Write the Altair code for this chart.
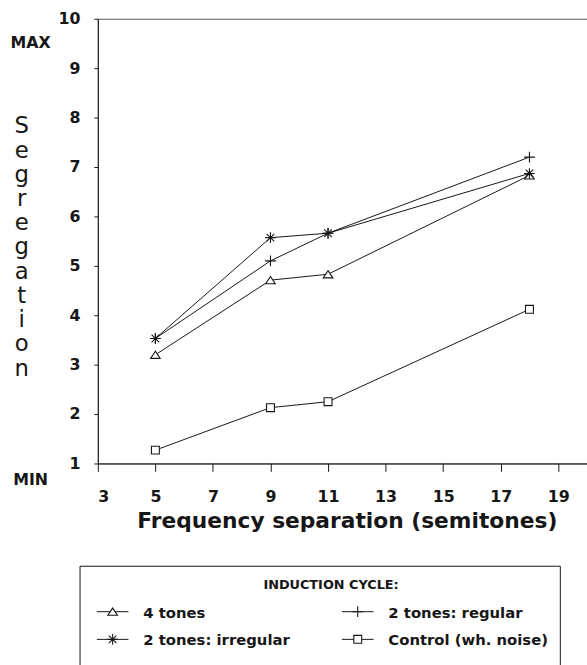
import altair as alt
import pandas as pd

# ---- data ----
freq = [5, 9, 11, 18]
four_tones = [3.20, 4.71, 4.83, 6.83]
two_regular = [3.53, 5.10, 5.66, 7.20]
two_irregular = [3.53, 5.57, 5.66, 6.87]
control = [1.27, 2.13, 2.25, 4.12]

series_names = ["4 tones", "2 tones: regular", "2 tones: irregular", "Control (wh. noise)"]
series_values = [four_tones, two_regular, two_irregular, control]

x_ticks = [3, 5, 7, 9, 11, 13, 15, 17, 19]
y_ticks = [1, 2, 3, 4, 5, 6, 7, 8, 9, 10]

x_title = "Frequency separation (semitones)"
y_title_letters = list("Segregation")
legend_title = "INDUCTION CYCLE:"

# ---- styles ----
FONT = "DejaVu Sans"
INK = "#161616"
TRI = "M0,-0.75L1,0.75L-1,0.75Z"
SQR = "M-1,-1L1,-1L1,1L-1,1Z"
PLUS = "M-1,0L1,0M0,-1L0,1"
STAR = "M-1,0L1,0M0,-1L0,1M-0.72,-0.72L0.72,0.72M-0.72,0.72L0.72,-0.72"
shapes = [TRI, PLUS, STAR, SQR]
sizes = [95, 120, 115, 64]

rows = []
for name, vals in zip(series_names, series_values):
    for f, v in zip(freq, vals):
        rows.append({"series": name, "freq": f, "seg": v})
df = pd.DataFrame(rows)

W, H = 495, 450

xscale = alt.Scale(domain=[3, 20], nice=False, zero=False)
yscale = alt.Scale(domain=[1, 10], nice=False, zero=False)

xenc = alt.X("freq:Q", scale=xscale,
             axis=alt.Axis(values=x_ticks, title=x_title, grid=False,
                           tickSize=8, labelPadding=17, labelFont=FONT,
                           labelFontSize=16, labelFontWeight="bold",
                           labelColor=INK, tickColor=INK, domainColor=INK,
                           titleFont=FONT, titleFontSize=22, titleFontWeight="bold",
                           titleColor=INK, titleBaseline="middle",
                           titleX=252, titleY=58))
yenc = alt.Y("seg:Q", scale=yscale,
             axis=alt.Axis(values=y_ticks, title=None, grid=False,
                           tickSize=4, labelPadding=14, labelFont=FONT,
                           labelFontSize=16, labelFontWeight="bold",
                           labelColor=INK, tickColor=INK, domainColor=INK))

base = alt.Chart(df)

lines = base.mark_line(color=INK, strokeWidth=1).encode(
    x=xenc, y=yenc, detail="series:N")

layers = [lines]

for name, shp, sz in zip(series_names, shapes, sizes):
    layers.append(
        base.transform_filter(alt.datum.series == name).mark_point(
            filled=True, fill="white", stroke=INK, strokeWidth=1.1, opacity=1,
            shape=shp, size=sz
        ).encode(x="freq:Q", y="seg:Q")
    )

# vertical y title, one letter per line
ytitle = alt.Chart(pd.DataFrame({"t": [y_title_letters]})).mark_text(
    font=FONT, fontSize=23, color=INK, align="center", baseline="alphabetic",
    lineHeight=24.5
).encode(text="t", x=alt.value(-77), y=alt.value(116))
layers.append(ytitle)

# MAX / MIN labels
for label, ypix in [("MAX", 25), ("MIN", 467)]:
    layers.append(
        alt.Chart(pd.DataFrame({"t": [label]})).mark_text(
            font=FONT, fontSize=16, fontWeight="bold", color=INK,
            align="center", baseline="middle"
        ).encode(text="t", x=alt.value(-68), y=alt.value(ypix))
    )

# legend box
box = alt.Chart(pd.DataFrame({"a": [0]})).mark_rect(
    filled=False, stroke=INK, strokeWidth=1
).encode(x=alt.value(-18), x2=alt.value(468), y=alt.value(554), y2=alt.value(760))
layers.append(box)

layers.append(
    alt.Chart(pd.DataFrame({"t": [legend_title]})).mark_text(
        font=FONT, fontSize=13, fontWeight="bold", color=INK,
        align="center", baseline="middle"
    ).encode(text="t", x=alt.value(236), y=alt.value(573))
)

# legend entries: (series index, column x of symbol, row y)
legend_layout = [(0, 15, 600), (1, 263, 600), (2, 15, 628), (3, 263, 628)]
for idx, cx, cy in legend_layout:
    one = pd.DataFrame({"t": [series_names[idx]]})
    layers.append(
        alt.Chart(one).mark_rule(color=INK, strokeWidth=1).encode(
            x=alt.value(cx - 16), x2=alt.value(cx + 16), y=alt.value(cy))
    )
    layers.append(
        alt.Chart(one).mark_point(filled=True, fill="white", stroke=INK,
                                  strokeWidth=1.1, opacity=1,
                                  shape=shapes[idx], size=sizes[idx]).encode(
            x=alt.value(cx), y=alt.value(cy))
    )
    layers.append(
        alt.Chart(one).mark_text(font=FONT, fontSize=15, fontWeight="bold",
                                 color=INK, align="left", baseline="middle").encode(
            text="t", x=alt.value(cx + 31), y=alt.value(cy + 1))
    )

chart = alt.layer(*layers).properties(
    width=W, height=H,
    autosize=alt.AutoSizeParams(type="none"),
    padding={"left": 99, "top": 15, "right": 0, "bottom": 205},
    background="white",
).configure_view(stroke="#555", strokeWidth=1)

chart.save("out.html", embed_options={"renderer": "svg", "actions": False})
